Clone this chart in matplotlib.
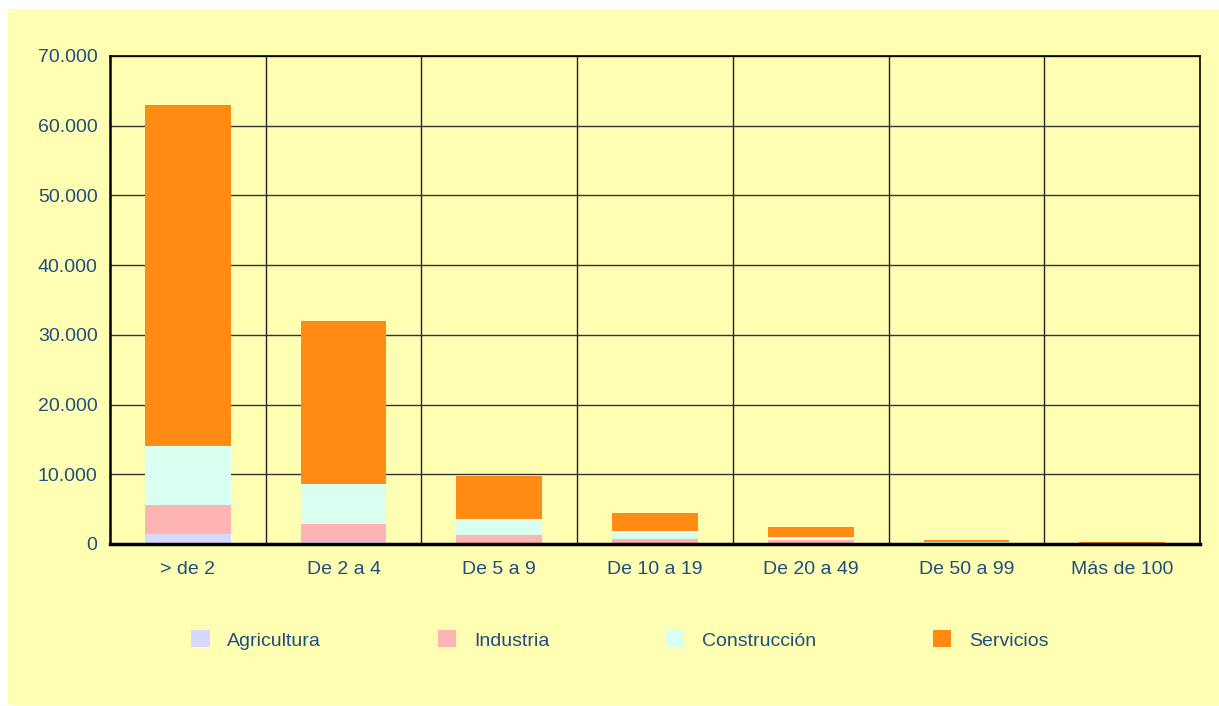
import matplotlib.pyplot as plt
from matplotlib.patches import Rectangle
from matplotlib.ticker import FuncFormatter, MultipleLocator, FixedLocator
import numpy as np

plt.rcParams['font.family'] = ['Liberation Sans', 'DejaVu Sans']

# Data
categorias = ['> de 2', 'De 2 a 4', 'De 5 a 9', 'De 10 a 19', 'De 20 a 49', 'De 50 a 99', 'Más de 100']
agricultura = [1400, 300, 100, 50, 30, 10, 5]
industria = [4200, 2600, 1200, 670, 500, 150, 80]
construccion = [8400, 5700, 2300, 1150, 470, 80, 40]
servicios = [49000, 23400, 6200, 2580, 1440, 330, 165]

series = [('Agricultura', agricultura, '#D8D8FF'),
          ('Industria', industria, '#FFB4B4'),
          ('Construcción', construccion, '#D8FFF0'),
          ('Servicios', servicios, '#FF8A14')]

bg = '#FFFFB4'
txt = '#1F4E7F'

fig = plt.figure(figsize=(12.19, 7.06), dpi=100, facecolor='white')
fig.patches.append(Rectangle((8 / 1219, 1 / 706), 1211 / 1219, 696 / 706,
                             transform=fig.transFigure, facecolor=bg,
                             edgecolor='none', zorder=-1))

ax = fig.add_axes([110 / 1219, 1 - 544 / 706, 1090 / 1219, 488 / 706])
ax.set_facecolor(bg)

x = np.arange(len(categorias))
bottom = np.zeros(len(categorias))
handles = []
for nombre, vals, color in series:
    b = ax.bar(x, vals, 0.55, bottom=bottom, color=color, label=nombre, zorder=3)
    handles.append(b)
    bottom += np.array(vals)

ax.set_xlim(-0.5, len(categorias) - 0.5)
ax.set_ylim(0, 70000)
ax.yaxis.set_major_locator(MultipleLocator(10000))
ax.yaxis.set_major_formatter(FuncFormatter(lambda v, p: f'{int(v):,}'.replace(',', '.')))
ax.set_xticks(x)
ax.set_xticklabels(categorias)
ax.xaxis.set_minor_locator(FixedLocator(np.arange(0.5, len(categorias) - 1, 1)))

ax.grid(axis='y', which='major', color='#333333', linewidth=1, zorder=1)
ax.grid(axis='x', which='minor', color='#222222', linewidth=1, zorder=1)
ax.grid(axis='x', which='major', visible=False)

ax.tick_params(axis='both', which='both', length=0, labelsize=14, labelcolor=txt)
ax.tick_params(axis='y', pad=9)
ax.tick_params(axis='x', pad=12)

for s in ['top', 'right']:
    ax.spines[s].set_linewidth(1.2)
ax.spines['left'].set_linewidth(1.8)
ax.spines['bottom'].set_linewidth(2.5)
for s in ax.spines.values():
    s.set_color('black')
    s.set_zorder(4)

leg = fig.legend(handles=handles, loc='center', bbox_to_anchor=(0.5085, 1 - 640 / 706),
                 ncol=4, frameon=False, fontsize=14, labelcolor=txt,
                 handlelength=0.95, handleheight=0.95, handletextpad=0.9,
                 columnspacing=6.0)

fig.savefig('out.png', dpi=100, facecolor='white')
